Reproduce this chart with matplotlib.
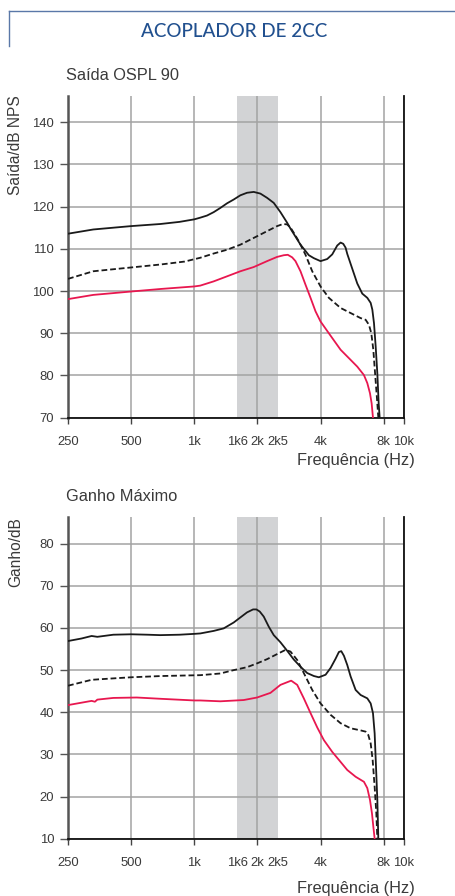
import matplotlib
matplotlib.use("Agg")
import matplotlib.pyplot as plt
from matplotlib import font_manager
from matplotlib.ticker import FixedLocator, FixedFormatter

installed = {f.name for f in font_manager.fontManager.ttflist}
if 'Liberation Sans Narrow' in installed:
    TICK_FONT, TICK_SIZE = ['Liberation Sans Narrow'], 10.5
else:
    TICK_FONT, TICK_SIZE = ['Liberation Sans', 'DejaVu Sans'], 9.4
LABEL_FONT = ['Liberation Sans', 'DejaVu Sans']

# OSPL 90 curves (dB SPL)
f_ospl_solid = [250, 330, 500, 690, 850, 1000, 1068, 1150, 1237, 1331, 1433, 1542, 1659, 1785,
                1921, 2067, 2224, 2393, 2576, 2772, 2876, 3210, 3518, 3717, 4000, 4304, 4548,
                4805, 4985, 5133, 5265, 5365, 5667, 5987, 6325, 6684, 6936, 7064, 7193, 7327,
                7462, 7572, 7656]
ospl_solid = [113.6, 114.6, 115.4, 115.9, 116.4, 117.0, 117.4, 117.9, 118.7, 119.7, 120.8, 121.7,
              122.7, 123.3, 123.5, 123.1, 122.1, 120.9, 118.7, 116.2, 114.8, 111.0, 108.5, 107.8,
              107.1, 107.6, 108.7, 110.8, 111.5, 111.2, 110.3, 108.8, 105.3, 101.8, 99.4, 98.4,
              97.2, 95.6, 92.4, 86.9, 80.5, 73.4, 70.0]

f_ospl_dash = [250, 330, 500, 690, 900, 1068, 1237, 1433, 1659, 1921, 2224, 2483, 2650, 2772,
               2880, 2983, 3151, 3392, 3651, 4000, 4383, 4985, 5565, 6211, 6563, 6808, 6985,
               7140, 7300, 7462, 7544]
ospl_dash = [102.9, 104.7, 105.6, 106.3, 107.0, 107.9, 108.9, 109.8, 111.0, 112.6, 114.2, 115.4,
             115.9, 115.8, 115.0, 113.8, 111.8, 108.6, 104.7, 101.1, 98.4, 96.0, 94.8, 93.6,
             93.2, 92.0, 90.0, 86.1, 79.7, 73.4, 70.0]

f_ospl_red = [250, 330, 500, 690, 1000, 1068, 1237, 1433, 1659, 1921, 2224, 2483, 2672, 2792,
              2929, 3038, 3210, 3392, 3584, 3786, 4000, 4383, 4985, 5565, 5987, 6442, 6684,
              6883, 7010, 7113]
ospl_red = [98.1, 99.1, 99.9, 100.5, 101.1, 101.3, 102.3, 103.5, 104.7, 105.7, 107.1, 108.1,
            108.5, 108.6, 108.0, 107.1, 104.7, 101.5, 98.4, 95.2, 92.8, 90.0, 86.1, 83.7, 82.1,
            80.1, 78.2, 75.8, 73.4, 70.0]

# Maximum gain curves (dB)
f_gain_solid = [250, 290, 324, 345, 411, 500, 600, 688, 850, 1000, 1068, 1237, 1381, 1542, 1659,
                1785, 1907, 1978, 2052, 2144, 2266, 2393, 2576, 2772, 2983, 3210, 3456, 3717,
                3927, 4227, 4465, 4718, 4893, 5022, 5171, 5365, 5565, 5879, 6211, 6684, 6936,
                7113, 7245, 7354, 7462, 7544]
gain_solid = [56.9, 57.5, 58.1, 57.9, 58.4, 58.5, 58.4, 58.3, 58.4, 58.6, 58.7, 59.3, 59.9, 61.3,
              62.5, 63.7, 64.4, 64.4, 63.9, 62.7, 60.3, 58.3, 56.6, 54.6, 52.5, 50.8, 49.3, 48.6,
              48.3, 48.9, 50.5, 52.7, 54.3, 54.5, 53.4, 51.2, 48.5, 45.3, 44.1, 43.3, 42.1, 39.8,
              35.0, 27.1, 19.2, 10.0]

f_gain_dash = [250, 324, 400, 500, 700, 1068, 1331, 1542, 1785, 1993, 2224, 2483, 2722, 2876,
               3096, 3329, 3651, 4000, 4465, 4985, 5565, 6211, 6563, 6758, 6936, 7088, 7245,
               7381, 7462]
gain_dash = [46.3, 47.7, 48.0, 48.3, 48.6, 48.8, 49.2, 50.0, 50.7, 51.6, 52.6, 53.8, 54.8, 54.4,
             52.4, 49.3, 45.3, 42.1, 39.4, 37.4, 36.2, 35.7, 35.4, 34.6, 32.6, 28.7, 22.3, 16.0,
             10.0]

f_gain_red = [250, 324, 336, 345, 411, 532, 688, 1000, 1068, 1331, 1721, 1993, 2308, 2576, 2898,
              3096, 3329, 3584, 3857, 4148, 4548, 4893, 5365, 5879, 6442, 6684, 6883, 7036,
              7140, 7245]
gain_red = [41.7, 42.7, 42.5, 43.0, 43.4, 43.5, 43.2, 42.8, 42.8, 42.6, 42.9, 43.5, 44.6, 46.5,
            47.5, 46.5, 43.3, 39.8, 36.4, 33.4, 30.6, 28.7, 26.3, 24.7, 23.5, 22.0, 19.2, 16.0,
            12.9, 10.0]

freq_ticks = [250, 500, 1000, 2000, 4000, 8000, 10000]
freq_labels = ['250', '500', '1k', '2k', '4k', '8k', '10k']
band_ticks = [1600, 2500]
band_labels = ['1k6', '2k5']

TXT = '#3a3a3a'
RED = '#e8174f'
GRID = '#a3a3a3'
BAND = '#d2d3d5'

fig = plt.figure(figsize=(4.55, 8.96), dpi=100)
fig.patch.set_facecolor('white')

# header frame and title
frame = '#5a78a8'
fig.add_artist(plt.Line2D([8.5 / 455, 1.0], [1 - 11.5 / 896, 1 - 11.5 / 896], color=frame, lw=1.0))
fig.add_artist(plt.Line2D([8.5 / 455, 8.5 / 455], [1 - 11.5 / 896, 1 - 46 / 896], color=frame, lw=1.0))
fig.text(234 / 455, 1 - 31.5 / 896, 'ACOPLADOR DE 2CC', color='#21508f', fontsize=13.6,
         family=['Lato', 'DejaVu Sans'], weight='medium', ha='center', va='center')


def setup(ax, ylo, yhi, yticks, title, ylabel, series):
    ax.axvspan(band_ticks[0], band_ticks[1], color=BAND, lw=0, zorder=0)
    ax.set_xscale('log')
    ax.set_xlim(250, 10000)
    ax.set_ylim(ylo, yhi)
    ax.xaxis.set_major_locator(FixedLocator(freq_ticks))
    ax.xaxis.set_major_formatter(FixedFormatter(freq_labels))
    ax.xaxis.set_minor_locator(FixedLocator(band_ticks))
    ax.xaxis.set_minor_formatter(FixedFormatter(band_labels))
    ax.set_yticks(yticks)
    ax.grid(True, which='major', color=GRID, lw=1.1, zorder=1)
    ax.tick_params(axis='x', which='major', direction='out', length=4, width=1.0, color='#444',
                   labelcolor=TXT, labelsize=TICK_SIZE, pad=9.5)
    ax.tick_params(axis='x', which='minor', length=0, labelcolor=TXT, labelsize=TICK_SIZE, pad=13.3)
    ax.tick_params(axis='y', direction='out', length=6, width=1.0, color='#555',
                   labelcolor=TXT, labelsize=TICK_SIZE, pad=4)
    for lab in ax.get_xticklabels(which='both') + ax.get_yticklabels():
        lab.set_family(TICK_FONT)
    ax.spines['top'].set_visible(False)
    ax.spines['left'].set_color('#555')
    ax.spines['left'].set_linewidth(1.8)
    ax.spines['right'].set_color('#111')
    ax.spines['right'].set_linewidth(1.3)
    ax.spines['bottom'].set_color('#111')
    ax.spines['bottom'].set_linewidth(1.3)
    for f, v, style in series:
        ax.plot(f, v, zorder=3, solid_joinstyle='round', dash_joinstyle='round', **style)
    ax.text(-0.006, 1.0 + 20 / 322, title, transform=ax.transAxes, color=TXT,
            fontsize=11.8, family=LABEL_FONT, ha='left', va='center')
    ax.text(-52 / 336, 1.0, ylabel, transform=ax.transAxes, color=TXT, rotation=90,
            fontsize=11.2, family=LABEL_FONT, ha='center', va='top')


solid = dict(color='#1a1a1a', lw=1.3)
dashed = dict(color='#1a1a1a', lw=1.3, ls=(0, (3.2, 1.6)))
red = dict(color=RED, lw=1.3)

ax1 = fig.add_axes([68 / 455, 1 - 417.7 / 896, 336 / 455, 322 / 896])
setup(ax1, 70, 146.3, range(70, 141, 10), 'Saída OSPL 90', 'Saída/dB NPS',
      [(f_ospl_solid, ospl_solid, solid), (f_ospl_dash, ospl_dash, dashed),
       (f_ospl_red, ospl_red, red)])
fig.text(415 / 455, 1 - 460 / 896, 'Frequência (Hz)', color=TXT, fontsize=11.8,
         family=LABEL_FONT, ha='right', va='center')

ax2 = fig.add_axes([68 / 455, 1 - 838.7 / 896, 336 / 455, 322 / 896])
setup(ax2, 10, 86.4, range(10, 81, 10), 'Ganho Máximo', 'Ganho/dB',
      [(f_gain_solid, gain_solid, solid), (f_gain_dash, gain_dash, dashed),
       (f_gain_red, gain_red, red)])
fig.text(415 / 455, 1 - 888 / 896, 'Frequência (Hz)', color=TXT, fontsize=11.8,
         family=LABEL_FONT, ha='right', va='center')

fig.savefig('out.png', dpi=100, facecolor='white')
